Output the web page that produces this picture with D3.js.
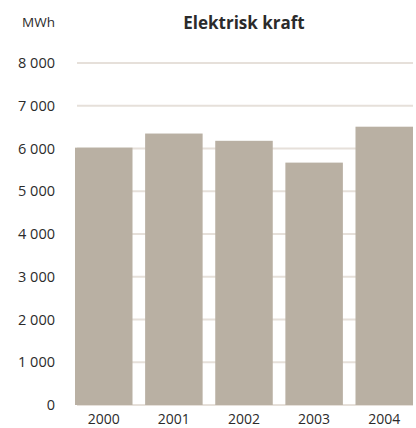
<!DOCTYPE html>
<html>
<head>
<meta charset="utf-8">
<script src="https://cdn.jsdelivr.net/npm/d3@7"></script>
<style>
  body { margin: 0; background: #fff; }
  text { font-family: "Open Sans", "Noto Sans", sans-serif; fill: #2b2b2b; }
</style>
</head>
<body>
<svg id="chart"></svg>
<script>
// values
const years = ["2000", "2001", "2002", "2003", "2004"];
const mwh = [6020, 6350, 6180, 5670, 6510];
const yTicks = [0, 1000, 2000, 3000, 4000, 5000, 6000, 7000, 8000];
const title = "Elektrisk kraft";
const unit = "MWh";

const w = 416, h = 428;
const margin = { top: 63, right: 3, bottom: 23, left: 75 };

const svg = d3.select("#chart").attr("width", w).attr("height", h);

const x = d3.scaleBand()
  .domain(years)
  .range([margin.left, w - margin.right])
  .paddingInner(0.18)
  .paddingOuter(0);

const y = d3.scaleLinear()
  .domain([0, 8000])
  .range([h - margin.bottom, margin.top]);

// gridlines
svg.append("g")
  .selectAll("line")
  .data(yTicks)
  .enter()
  .append("line")
  .attr("x1", 77)
  .attr("x2", w - margin.right)
  .attr("y1", d => y(d))
  .attr("y2", d => y(d))
  .attr("stroke", "#e6e0da")
  .attr("stroke-width", 2);

// y labels
svg.append("g")
  .selectAll("text")
  .data(yTicks)
  .enter()
  .append("text")
  .attr("x", 55)
  .attr("y", d => y(d))
  .attr("dy", "0.35em")
  .attr("text-anchor", "end")
  .style("font-size", "14.5px")
  .text(d => d3.format(",")(d).replace(/,/g, " "));

// bars
svg.append("g")
  .selectAll("rect")
  .data(mwh)
  .enter()
  .append("rect")
  .attr("x", (d, i) => x(years[i]))
  .attr("y", d => y(d))
  .attr("width", x.bandwidth())
  .attr("height", d => y(0) - y(d))
  .attr("fill", "#b9b0a3");

// x labels
svg.append("g")
  .selectAll("text")
  .data(years)
  .enter()
  .append("text")
  .attr("x", d => x(d) + x.bandwidth() / 2)
  .attr("y", 424)
  .attr("text-anchor", "middle")
  .style("font-size", "14px")
  .text(d => d);

svg.append("text")
  .attr("x", 55)
  .attr("y", 27)
  .attr("text-anchor", "end")
  .style("font-size", "13.5px")
  .text(unit);

svg.append("text")
  .attr("x", 244)
  .attr("y", 29)
  .attr("text-anchor", "middle")
  .style("font-size", "17px")
  .style("font-weight", "bold")
  .text(title);
</script>
</body>
</html>
